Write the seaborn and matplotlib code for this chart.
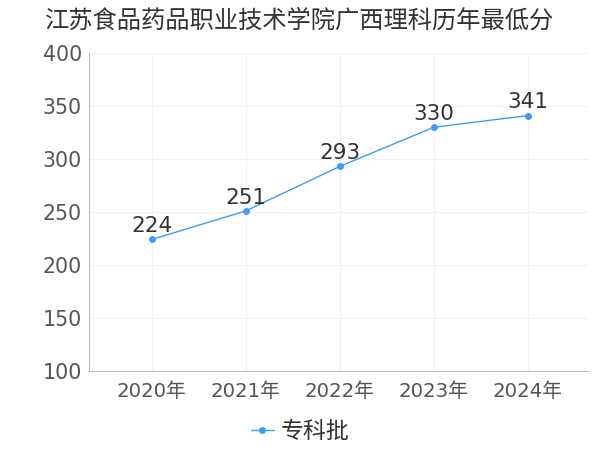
import matplotlib
matplotlib.use("Agg")
import matplotlib.pyplot as plt
import seaborn as sns
import pandas as pd

years = ["2020年", "2021年", "2022年", "2023年", "2024年"]
scores = [224, 251, 293, 330, 341]
series_name = "专科批"
title = "江苏食品药品职业技术学院广西理科历年最低分"
yticks = [100, 150, 200, 250, 300, 350, 400]

sns.set_style("white")
plt.rcParams['font.family'] = ['DejaVu Sans', 'Noto Sans CJK SC']

df = pd.DataFrame({"year": years, "score": scores, "series": series_name})

fig = plt.figure(figsize=(6, 4.5), dpi=100)
ax = fig.add_axes([0.148, 0.176, 0.832, 0.706])
color = "#3d9cf5"
sns.lineplot(data=df, x="year", y="score", hue="series", palette=[color],
             marker="o", markersize=5, markeredgewidth=0, linewidth=1, ax=ax, sort=False)

for i, v in enumerate(scores):
    ax.text(i, v + 3, str(v), ha="center", va="bottom", fontsize=15.5, color="#333333")

ax.set_ylim(100, 400)
ax.set_yticks(yticks)
ax.set_xlim(-0.67, 4.64)
ax.set_xlabel("")
ax.set_ylabel("")
ax.grid(True, color="#f2f2f2", linewidth=0.8)
for s in ["top", "right"]:
    ax.spines[s].set_visible(False)
ax.spines["left"].set_color("#bbbbbb")
ax.spines["bottom"].set_color("#bbbbbb")
ax.tick_params(axis="both", colors="#bbbbbb", labelcolor="#555555",
               length=3, width=0.8, direction="out")
ax.tick_params(axis="x", labelsize=14.2, pad=5)
ax.tick_params(axis="y", labelsize=14.8, pad=2)

fig.text(0.075, 0.955, title, fontsize=17.5, color="#333333", ha="left", va="center",
         family=['Noto Sans CJK SC', 'DejaVu Sans'])

ax.legend_.remove()
h, l = ax.get_legend_handles_labels()
fig.legend(h, [series_name], loc="center", bbox_to_anchor=(0.5, 0.04), frameon=False,
           prop={'family': ['Noto Sans CJK SC', 'DejaVu Sans'], 'size': 16.5},
           handlelength=1.0, handletextpad=0.3, labelcolor="#333333")

fig.savefig("out.png", dpi=100)
